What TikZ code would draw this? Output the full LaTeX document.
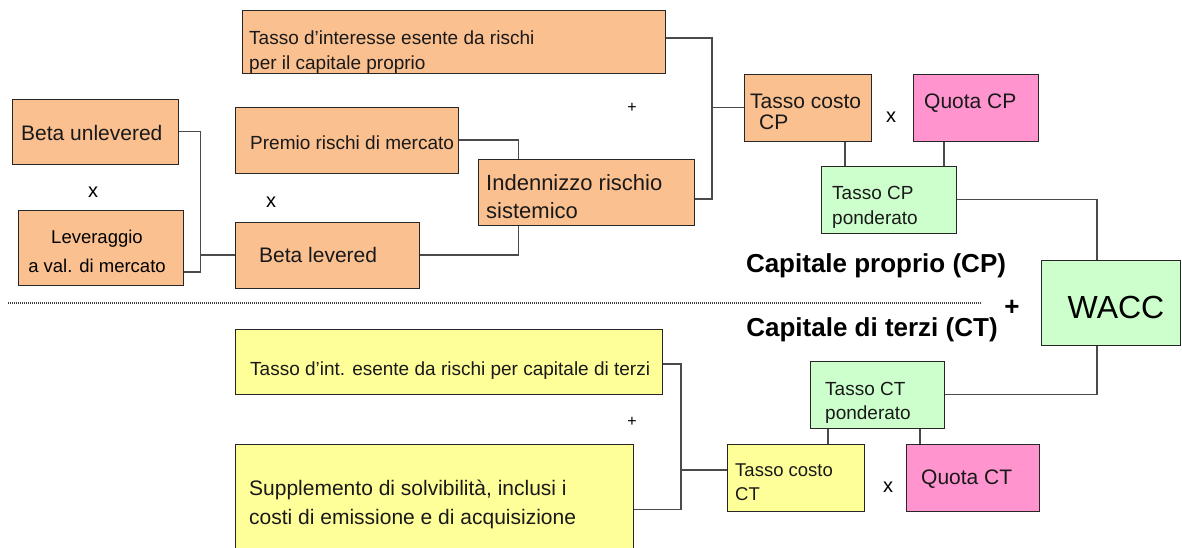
\documentclass[tikz,border=0pt]{standalone}
\usepackage{fontspec}
\setmainfont{Liberation Sans}
\usetikzlibrary{calc}
\definecolor{cporange}{HTML}{FAC090}
\definecolor{cppink}{HTML}{FF94CF}
\definecolor{cpgreen}{HTML}{CCFFCC}
\definecolor{ctyellow}{HTML}{FFFF99}
\definecolor{linegray}{HTML}{4A4A4A}
\newcommand{\apos}{\symbol{"27}}
\tikzset{
  box/.style={draw=black!85, line width=1pt, rectangle, inner sep=0pt},
  obox/.style={box, fill=cporange},
  pbox/.style={box, fill=cppink},
  gbox/.style={box, fill=cpgreen},
  ybox/.style={box, fill=ctyellow},
  conn/.style={draw=linegray, line width=1.4pt},
  txt/.style={inner sep=0pt, anchor=base west, align=left, text=black!90},
  fs/.style={font=\fontsize{#1}{#1}\selectfont},
  opsign/.style={inner sep=0pt, font=\fontsize{20}{20}\selectfont},
  plussign/.style={inner sep=0pt, font=\fontsize{16}{16}\selectfont},
  title/.style={inner sep=0pt, font=\bfseries\fontsize{26}{26}\selectfont}
}
\newcommand{\mkbox}[6]{% style, name, x1, y1, x2, y2
  \node[#1, minimum width={#5-#3}, minimum height={#6-#4}] (#2) at ({(#3+#5)/2},{(#4+#6)/2}) {};}
\begin{document}
\begin{tikzpicture}[x=1pt,y=-1pt]
\useasboundingbox (0,0) rectangle (1182,547);
\fill[white] (0,0) rectangle (1182,547);

% ---- boxes, capitale proprio
\mkbox{obox}{tir}{242}{10}{665}{73}
\mkbox{obox}{bu}{12}{99}{178}{164}
\mkbox{obox}{pr}{235}{107}{458}{173}
\mkbox{obox}{ind}{478}{159}{694}{225}
\mkbox{obox}{lev}{18}{210}{183}{285}
\mkbox{obox}{bl}{235}{222}{419}{288}
\mkbox{obox}{tcp}{744}{74}{871}{141}
\mkbox{pbox}{qcp}{913}{74}{1038}{141}
\mkbox{gbox}{pcp}{821}{166}{956}{233}
\mkbox{gbox}{wacc}{1041}{260}{1180}{345}
% ---- boxes, capitale di terzi
\mkbox{ybox}{tit}{235}{329}{662}{394}
\mkbox{ybox}{sup}{235}{444}{633}{548}
\mkbox{ybox}{tct}{727}{444}{864}{511}
\mkbox{pbox}{qct}{906}{444}{1039}{511}
\mkbox{gbox}{pct}{810}{361}{944}{428}

% ---- texts (multi-line nodes: base anchor = last line baseline)
\node[txt, font=\fontsize{19}{25}\selectfont] (ttir) at (249,69) {Tasso d\apos interesse esente da rischi\\per il capitale proprio};
\node[txt, fs=21] (tbu) at (21,140.5) {Beta unlevered};
\node[txt, fs=19] (tpr) at (250,149) {Premio rischi di mercato};
\node[txt, font=\fontsize{22}{28}\selectfont] (tind) at (486,218) {Indennizzo rischio\\sistemico};
\node[inner sep=0pt, anchor=base, align=center, font=\fontsize{18.5}{29}\selectfont] (tlev) at (97,272) {Leveraggio\\a val. di mercato};
\node[txt, fs=21] (tbl) at (259,262.5) {Beta levered};
\node[txt, font=\fontsize{21}{21}\selectfont] (ttcp) at (750,129.5) {Tasso costo\\\hspace*{9pt}CP};
\node[txt, fs=21] (tqcp) at (924,108.5) {Quota CP};
\node[txt, font=\fontsize{19}{25}\selectfont] (tpcp) at (832,224) {Tasso CP\\ponderato};
\node[inner sep=0pt, font=\fontsize{32}{32}\selectfont] (twacc) at (1116,307) {WACC};

\node[txt, fs=19] (ttit) at (250,375) {Tasso d\apos int. esente da rischi per capitale di terzi};
\node[txt, font=\fontsize{21}{29}\selectfont] (tsup) at (249,524.5) {Supplemento di solvibilità, inclusi i\\costi di emissione e di acquisizione};
\node[txt, font=\fontsize{18.5}{24}\selectfont] (ttct) at (735,500) {Tasso costo\\CT};
\node[txt, fs=21] (tqct) at (921,484.5) {Quota CT};
\node[txt, font=\fontsize{19}{24}\selectfont] (tpct) at (825,419) {Tasso CT\\ponderato};

% ---- titles and operators
\node[title] (lcp) at (876,266) {Capitale proprio (CP)};
\node[title] (lct) at (872,330) {Capitale di terzi (CT)};
\node[inner sep=0pt, font=\bfseries\fontsize{26}{26}\selectfont] (bigplus) at (1012,308) {+};
\node[opsign] (x1) at (93,192) {x};
\node[opsign] (x2) at (271,202) {x};
\node[opsign] (x3) at (891,117) {x};
\node[opsign] (x4) at (888,487) {x};
\node[plussign] (p1) at (632,108) {+};
\node[plussign] (p2) at (632,422) {+};

% ---- dotted separator
\draw[draw=black!75, line width=1.3pt, dash pattern=on 1pt off 1pt] (8,303) -- (982,303);

% ---- connectors, capitale proprio
\coordinate (jbl) at (200,255);
\draw[conn] (bu.east) -| ($(lev.east)+(17,24.5)$) -- ($(lev.east)+(0,24.5)$);
\draw[conn] (jbl) -- (bl.west);
\draw[conn] (pr.east) -| ($(ind.north west)+(41,0)$);
\draw[conn] (bl.east) -| ($(ind.south west)+(41,0)$);
\coordinate (jcp) at (712,107.5);
\draw[conn] ([yshift=3.5]tir.east) -| (jcp) |- ([yshift=-7]ind.east);
\draw[conn] (jcp) -- (tcp.west);
\draw[conn] ([xshift=37.5]tcp.south) -- ([xshift=37.5]tcp.south |- pcp.north);
\draw[conn] ([xshift=-31.5]qcp.south) -- ([xshift=-31.5]qcp.south |- pcp.north);
\draw[conn] (pcp.east) -| ([xshift=-13.5]wacc.north);

% ---- connectors, capitale di terzi
\coordinate (jct) at (681,470);
\draw[conn] ([yshift=-2.5]tit.east) -| (jct) |- ([yshift=-13.5]sup.east);
\draw[conn] (jct) -- ([yshift=7.5]tct.west);
\draw[conn] ([xshift=32.5]tct.north) -- ([xshift=32.5]tct.north |- pct.south);
\draw[conn] ([xshift=-52.5]qct.north) -- ([xshift=-52.5]qct.north |- pct.south);
\draw[conn] (pct.east) -| ([xshift=-13.5]wacc.south);
\end{tikzpicture}
\end{document}
